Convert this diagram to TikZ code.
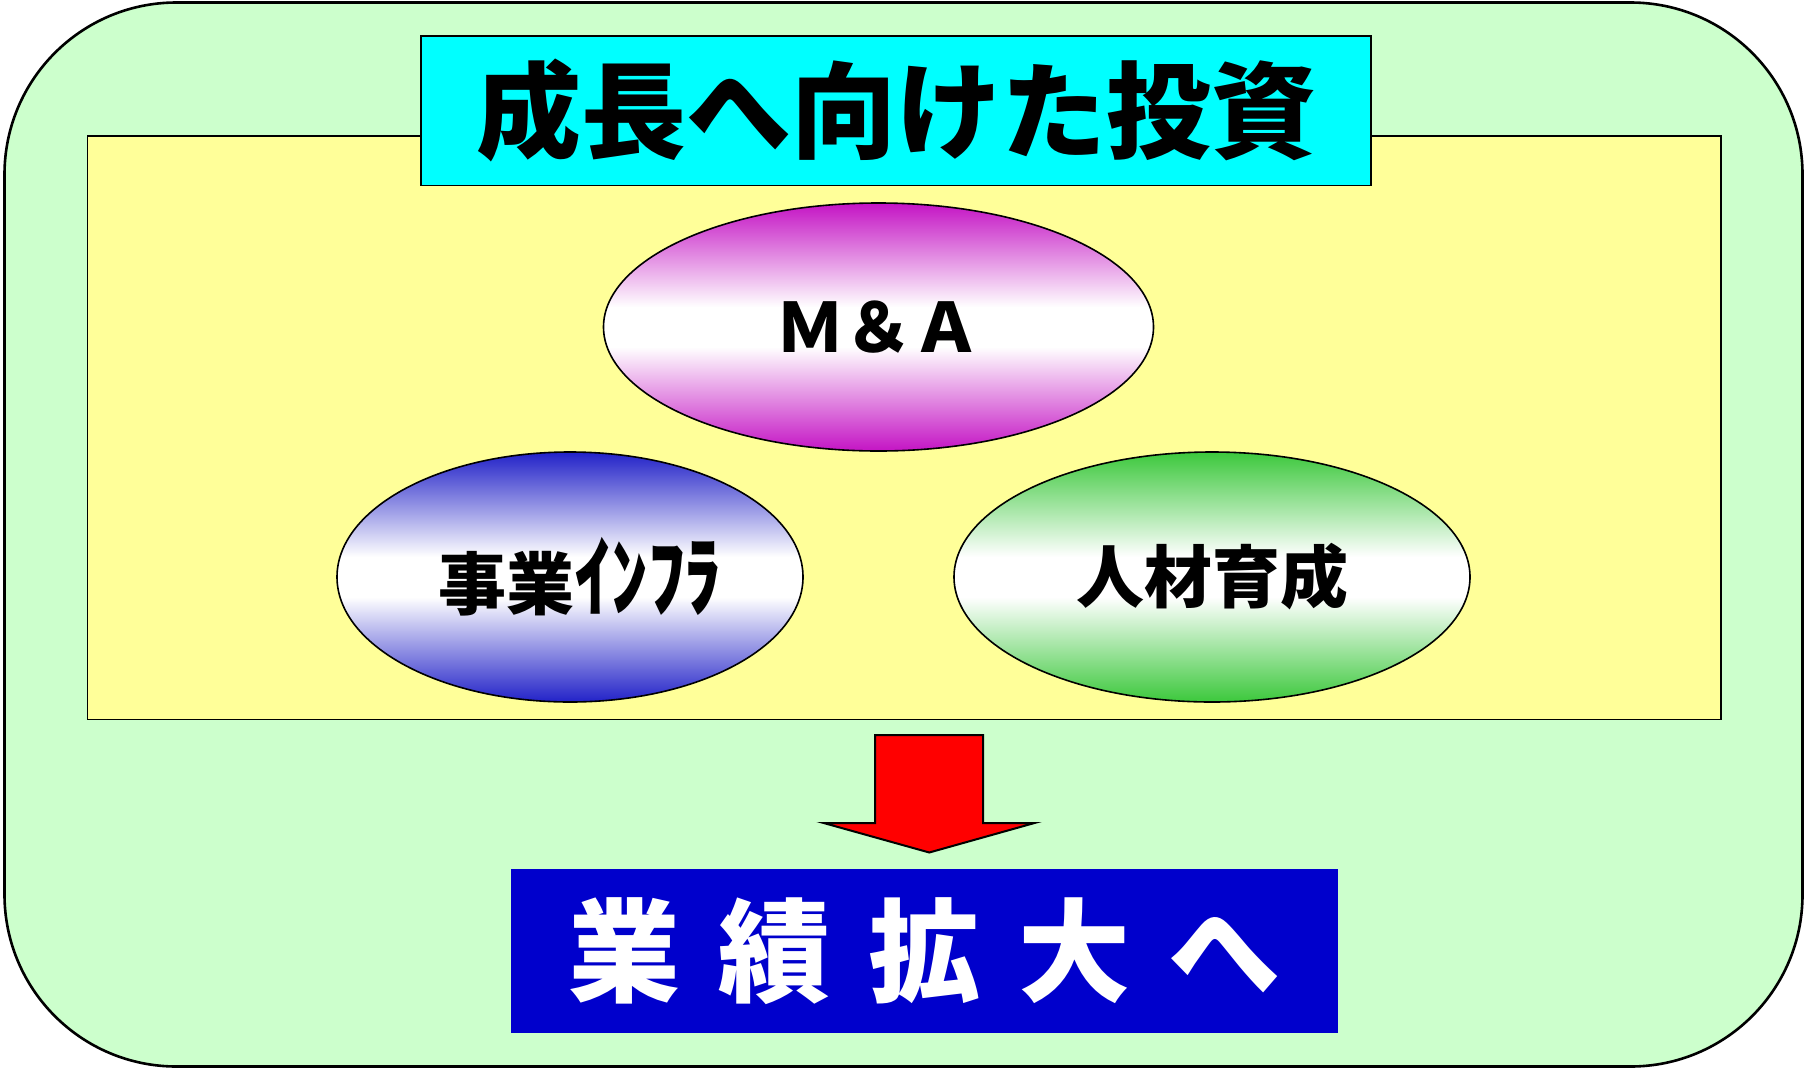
\documentclass[tikz,border=0pt]{standalone}
\usepackage{fontspec}
\newfontfamily\jp{Noto Sans CJK JP}
\usetikzlibrary{shapes.geometric}
\definecolor{bggreen}{HTML}{CCFFCC}
\definecolor{panelyellow}{HTML}{FFFF99}
\definecolor{titlecyan}{HTML}{00FFFF}
\definecolor{resultblue}{HTML}{0000CC}
\definecolor{magc}{HTML}{C414C4}
\definecolor{bluc}{HTML}{2222C8}
\definecolor{grnc}{HTML}{3CC83C}
\pgfdeclareverticalshading{magshade}{100bp}{color(0bp)=(magc); color(25bp)=(magc); color(46bp)=(white); color(54bp)=(white); color(75bp)=(magc); color(100bp)=(magc)}
\pgfdeclareverticalshading{blushade}{100bp}{color(0bp)=(bluc); color(25bp)=(bluc); color(46bp)=(white); color(54bp)=(white); color(75bp)=(bluc); color(100bp)=(bluc)}
\pgfdeclareverticalshading{grnshade}{100bp}{color(0bp)=(grnc); color(25bp)=(grnc); color(46bp)=(white); color(54bp)=(white); color(75bp)=(grnc); color(100bp)=(grnc)}
\begin{document}
\begin{tikzpicture}[x=1pt,y=-1pt,
  boxline/.style={draw=black,line width=1.6pt},
  oval/.style={ellipse,boxline,inner sep=0pt,font=\jp\bfseries\fontsize{68}{72}\selectfont},
  titlebox/.style={boxline,fill=titlecyan,inner sep=0pt,font=\jp\bfseries\fontsize{105}{110}\selectfont},
  resultbox/.style={fill=resultblue,inner sep=0pt,text=white,font=\jp\bfseries\fontsize{112}{116}\selectfont},
  bigarrow/.style={draw=black,line width=2pt,fill=red,line join=miter}]
\useasboundingbox (0,0) rectangle (1805,1069);
\draw[line width=2.6pt,fill=bggreen,rounded corners=172pt] (4.5,2.5) rectangle (1802.5,1066.5);
\node[boxline,fill=panelyellow,minimum width=1633.5pt,minimum height=583.7pt,inner sep=0pt] (panel) at (904.3,427.6) {};
\node[titlebox,minimum width=950pt,minimum height=149.6pt] (title) at (896,110.5) {成長へ向けた投資};
\node[oval,shading=magshade,minimum width=550pt,minimum height=248pt] (ma) at (878.5,327) {Ｍ＆Ａ};
\node[oval,shading=blushade,minimum width=466pt,minimum height=250pt] (infra) at (570,577) {\hspace*{20pt}事業\scalebox{1.08}[1.3]{ｲﾝﾌﾗ}};
\node[oval,shading=grnshade,minimum width=516pt,minimum height=250pt] (jinzai) at (1212,577) {人材育成};
\coordinate (a1) at (875,735);
\coordinate (a2) at (983,735);
\coordinate (a3) at (983,823);
\coordinate (a4) at (1034.5,823);
\coordinate (tip) at (929.3,852.5);
\coordinate (a6) at (823.7,823);
\coordinate (a7) at (875,823);
\draw[bigarrow] (a1) -- (a2) -- (a3) -- (a4) -- (tip) -- (a6) -- (a7) -- cycle;
\node[resultbox,minimum width=827pt,minimum height=163.6pt] (result) at (924.5,950.8) {業\hspace{38pt}績\hspace{38pt}拡\hspace{38pt}大\hspace{38pt}へ};
\end{tikzpicture}
\end{document}
